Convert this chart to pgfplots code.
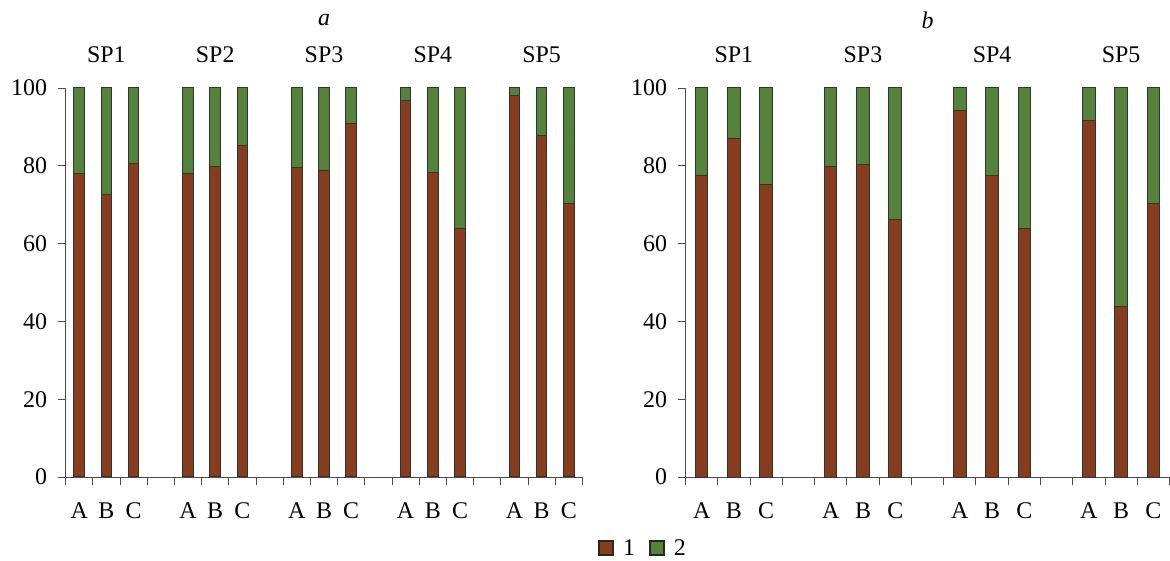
\documentclass[border=0pt]{standalone}
\usepackage{fontspec}
\setmainfont{Liberation Serif}
\usepackage{pgfplots}
\usepackage{pgfplotstable}
\pgfplotsset{compat=1.18}
\definecolor{cbrown}{RGB}{134,61,30}
\definecolor{cgreen}{RGB}{84,130,58}

\pgfplotstableread{
x s1 s2
0 78.0 22.0
1 72.6 27.4
2 80.5 19.5
4 78.1 21.9
5 79.8 20.2
6 85.3 14.7
8 79.5 20.5
9 78.7 21.3
10 90.9 9.1
12 96.9 3.1
13 78.4 21.6
14 63.8 36.2
16 98.0 2.0
17 87.9 12.1
18 70.3 29.7
}\dataA

\pgfplotstableread{
x s1 s2
0 77.6 22.4
1 87.1 12.9
2 75.1 24.9
4 79.8 20.2
5 80.3 19.7
6 66.1 33.9
8 94.3 5.7
9 77.4 22.6
10 63.8 36.2
12 91.6 8.4
13 43.8 56.2
14 70.3 29.7
}\dataB

\pgfplotsset{
  panel/.style={
    scale only axis, height=389bp, ymin=0, ymax=100, ytick={0,20,...,100},
    axis x line*=bottom, axis y line*=left,
    axis line style={-, black!70, line width=0.9bp},
    ybar stacked,
    tick style={black!70, line width=0.9bp}, major tick length=8bp,
    tick align=outside,
    xticklabels={},
    extra x tick style={major tick length=0pt, tick label style={yshift=-22bp}},
    yticklabel style={xshift=-7bp},
    font=\fontsize{24}{28}\selectfont,
    tick label style={font=\fontsize{24}{28}\selectfont},
    /pgf/number format/assume math mode=true,
    clip=false,
    enlargelimits=false,
    legend image code/.code={\path[draw=none,fill=none] (0bp,0bp) -- (22bp,0bp); \draw[#1, line width=1.8bp, draw=black!85] (0bp,-7bp) rectangle (14bp,7bp);},
  },
  s1/.style={fill=cbrown, draw=black!80, line width=1bp},
  s2/.style={fill=cgreen, draw=black!80, line width=1bp},
}

\begin{document}
\begin{tikzpicture}
\path[use as bounding box] (0,0) rectangle (1170bp,561bp);
\begin{axis}[panel, at={(65.6bp,84bp)}, anchor=south west,
  width=516.8bp, xmin=-0.5, xmax=18.5, bar width=10.5bp,
  xtick={-0.5,0.5,...,18.5},
  extra x ticks={0,1,2,4,5,6,8,9,10,12,13,14,16,17,18},
  extra x tick labels={A,B,C,A,B,C,A,B,C,A,B,C,A,B,C},
]
\addplot[s1] table[x=x,y=s1]{\dataA};
\addplot[s2] table[x=x,y=s2]{\dataA};
\node at (axis cs:1,100) [yshift=33bp] {SP1};
\node at (axis cs:5,100) [yshift=33bp] {SP2};
\node at (axis cs:9,100) [yshift=33bp] {SP3};
\node at (axis cs:13,100) [yshift=33bp] {SP4};
\node at (axis cs:17,100) [yshift=33bp] {SP5};
\node at (axis cs:9,100) [yshift=68bp] {\textit{a}};
\end{axis}
\begin{axis}[panel, at={(685.5bp,84bp)}, anchor=south west,
  width=484bp, xmin=-0.5, xmax=14.5, bar width=12.5bp,
  xtick={-0.5,0.5,...,14.5},
  extra x ticks={0,1,2,4,5,6,8,9,10,12,13,14},
  extra x tick labels={A,B,C,A,B,C,A,B,C,A,B,C},
  legend style={at={(-0.0878,-0.1825)}, anchor=center, draw=none, fill=none,
    legend columns=2, font=\fontsize{24}{28}\selectfont,
    /tikz/every even column/.append style={column sep=12bp}},
]
\addplot[s1] table[x=x,y=s1]{\dataB};
\addplot[s2] table[x=x,y=s2]{\dataB};
\legend{1,2}
\node at (axis cs:1,100) [yshift=33bp] {SP1};
\node at (axis cs:5,100) [yshift=33bp] {SP3};
\node at (axis cs:9,100) [yshift=33bp] {SP4};
\node at (axis cs:13,100) [yshift=33bp] {SP5};
\node at (axis cs:7,100) [yshift=68bp] {\textit{b}};
\end{axis}
\end{tikzpicture}
\end{document}
